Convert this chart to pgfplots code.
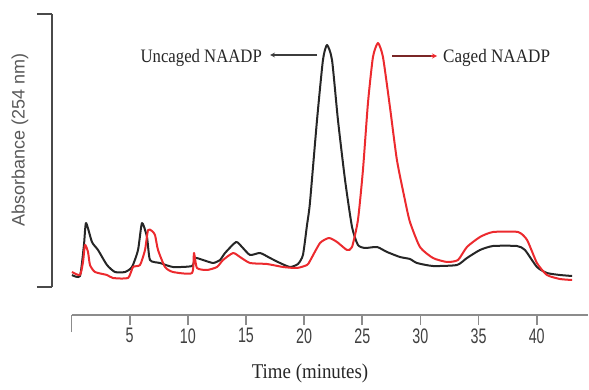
\documentclass[border=0pt]{standalone}
\usepackage{pgfplots}
\pgfplotsset{compat=1.18}
\usepackage{fontspec}
\setmainfont{Liberation Serif}
\newfontfamily\sansf{Liberation Sans}
\definecolor{curveblack}{HTML}{262626}
\definecolor{curvered}{HTML}{EC2A2E}
\definecolor{axgray}{HTML}{8C8C8C}
\definecolor{axdark}{HTML}{4A4A4A}
\definecolor{darkred}{HTML}{7A2626}
\begin{document}
\begin{tikzpicture}
\useasboundingbox (0,0) rectangle (589bp,390bp);
% main axis: data + x axis
\begin{axis}[
  scale only axis, width=516.5bp, height=301bp,
  at={(71.5bp,75bp)}, anchor=south west,
  xmin=0, xmax=44.41, ymin=-28, ymax=273,
  axis x line=bottom, axis y line=none,
  x axis line style={-, draw=axgray, line width=2.2bp},
  xtick={5,10,...,40},
  extra x ticks={0}, extra x tick labels={},
  extra x tick style={major tick length=17bp},
  tick align=outside, major tick length=10bp,
  tick style={draw=axgray, line width=1.8bp},
  /pgf/number format/assume math mode=true,
  xticklabel style={font=\sansf\fontsize{21bp}{23bp}\selectfont, text=black!75, xscale=0.68, yshift=0bp},
  xlabel={Time (minutes)},
  xlabel style={at={(axis description cs:0.4618,-0.1927)}, anchor=center,
    font=\fontsize{21bp}{23bp}\selectfont, text=black!85, xscale=0.9},
  clip=false,
]
\addplot[curveblack, line width=2bp, line join=round, smooth, tension=0.35] coordinates {
(0.04,12) (0.73,11) (1.07,42) (1.25,64) (1.76,45) (2.28,37) (3.05,22) (3.74,15)
(4.6,15) (5.2,20) (5.72,37) (6.06,64) (6.49,50) (6.75,27) (7.61,24) (8.73,20)
(10.36,21) (10.62,29) (11.31,27) (12.17,24) (12.77,27) (13.2,34) (14.15,45)
(14.66,40) (15.35,32) (16.21,34) (17.07,29) (17.93,24) (18.79,20) (19.47,23)
(19.9,32) (20.25,62) (20.5,84) (21.11,167) (21.62,227) (21.97,242) (22.4,227)
(22.91,167) (23.52,107) (24.12,60) (24.63,42) (25.24,39) (26.27,40) (27.13,35)
(28.24,30) (29.1,28) (29.7,24) (31.08,21) (33.14,22) (34.0,29) (35.12,37)
(36.24,41) (38.3,41) (38.99,37) (40.02,20) (40.88,14) (42.0,12) (43.04,11)
};
\addplot[curvered, line width=2bp, line join=round, smooth, tension=0.35] coordinates {
(0.04,15) (0.73,12) (0.99,25) (1.16,42) (1.42,35) (1.59,22) (2.02,15) (3.05,12)
(3.57,9) (4.86,9) (5.29,20) (5.89,22) (6.32,37) (6.58,57) (6.92,56) (7.18,52)
(7.44,37) (8.04,20) (8.73,15) (10.36,14) (10.53,34) (10.79,19) (11.65,17)
(12.51,20) (13.03,27) (13.89,34) (14.49,30) (15.35,24) (16.81,23) (18.19,20)
(19.39,19) (20.25,22) (20.5,26) (21.37,44) (22.14,49) (22.83,45) (23.69,37)
(24.12,40) (24.63,67) (25.06,117) (25.49,184) (25.92,230) (26.35,244)
(26.78,230) (27.38,180) (27.98,127) (28.67,87) (29.1,65) (29.96,40) (31.08,29)
(32.29,25) (33.23,27) (34.0,40) (35.12,50) (36.24,55) (38.39,55) (39.17,47)
(40.02,24) (40.88,12) (42.0,8) (43.04,7)
};
\draw[-stealth, curveblack!90, line width=1.2bp] (axis cs:21.11,232) -- (axis cs:17.07,232);
\node[anchor=base east, font=\fontsize{19bp}{21bp}\selectfont, text=black!85, xscale=0.88, inner sep=0pt]
  at (axis cs:16.38,224) {Uncaged NAADP};
\draw[darkred, line width=1.2bp] (axis cs:27.56,231) -- (axis cs:31.2,231);
\draw[-stealth, curvered, line width=1.2bp] (axis cs:30.9,231) -- (axis cs:31.43,231);
\node[anchor=base west, font=\fontsize{19bp}{21bp}\selectfont, text=black!85, xscale=0.9, inner sep=0pt]
  at (axis cs:31.94,224) {Caged NAADP};
\end{axis}
% y axis only
\begin{axis}[
  scale only axis, width=10bp, height=273bp,
  at={(52bp,103bp)}, anchor=south west,
  xmin=0, xmax=1, ymin=0, ymax=273,
  axis y line=left, axis x line=none,
  y axis line style={-, draw=axdark, line width=2bp},
  ytick={0,273}, yticklabels={},
  tick align=outside, major tick length=15bp,
  tick style={draw=axdark, line width=2bp},
  ylabel={Absorbance (254 nm)},
  ylabel style={at={(axis description cs:-3.2,0.538)}, anchor=center, rotate=0,
    font=\sansf\fontsize{18bp}{20bp}\selectfont, text=black!65},
]
\end{axis}
\end{tikzpicture}
\end{document}
